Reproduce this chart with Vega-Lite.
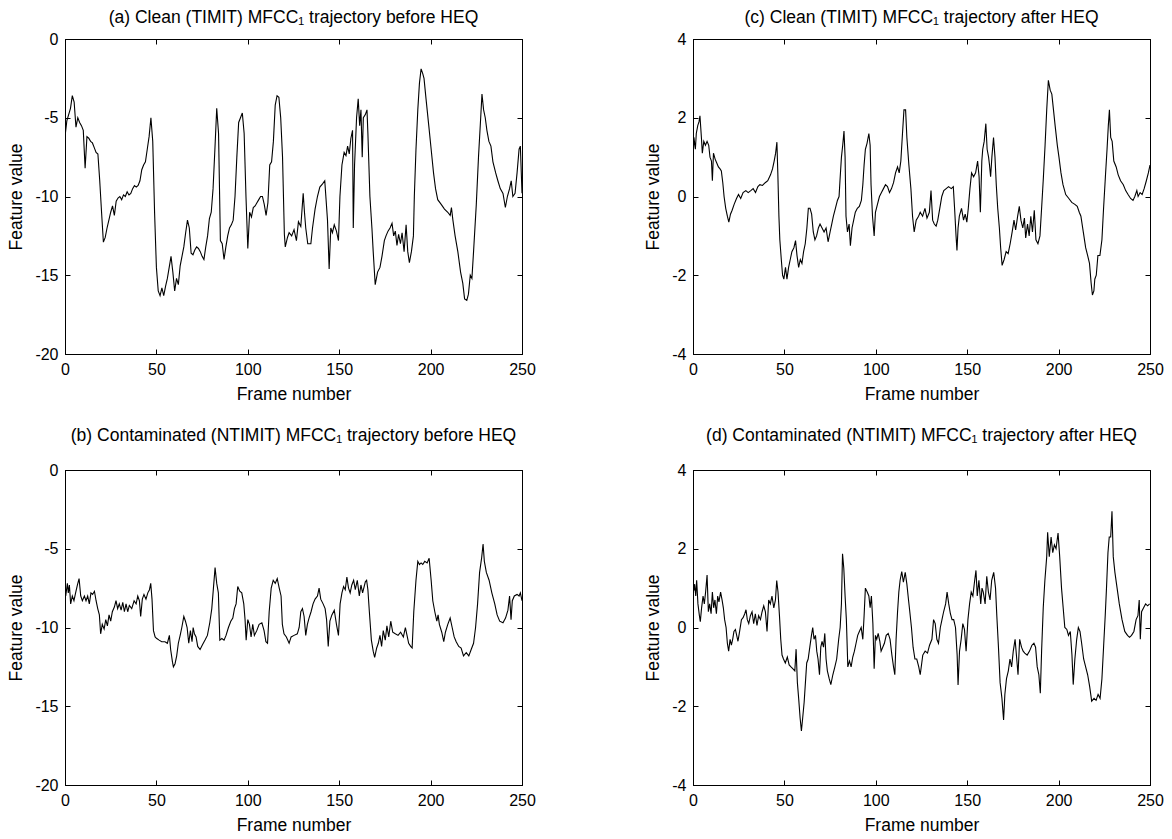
{
  "$schema": "https://vega.github.io/schema/vega-lite/v6.json",
  "background": "white",
  "padding": {"left": 7, "top": 8, "right": 5, "bottom": 5},
  "datasets": {
    "a": [{"f":0,"v":-6.2},{"f":1,"v":-5.2},{"f":2,"v":-4.8},{"f":3,"v":-4.4},{"f":4,"v":-3.6},{"f":5,"v":-4.0},{"f":6,"v":-5.6},{"f":7,"v":-5.0},{"f":8,"v":-5.3},{"f":9,"v":-5.5},{"f":10,"v":-5.8},{"f":11,"v":-8.2},{"f":12,"v":-6.2},{"f":13,"v":-6.3},{"f":14,"v":-6.5},{"f":15,"v":-6.6},{"f":16,"v":-6.9},{"f":17,"v":-7.2},{"f":18,"v":-7.3},{"f":19,"v":-9.0},{"f":20,"v":-11.0},{"f":21,"v":-12.9},{"f":22,"v":-12.6},{"f":23,"v":-12.0},{"f":24,"v":-11.5},{"f":25,"v":-11.0},{"f":26,"v":-10.6},{"f":27,"v":-11.2},{"f":28,"v":-10.3},{"f":29,"v":-10.1},{"f":30,"v":-10.0},{"f":31,"v":-10.2},{"f":32,"v":-9.9},{"f":33,"v":-10.0},{"f":34,"v":-9.7},{"f":35,"v":-9.9},{"f":36,"v":-9.8},{"f":37,"v":-9.5},{"f":38,"v":-9.3},{"f":39,"v":-9.4},{"f":40,"v":-9.3},{"f":41,"v":-9.0},{"f":42,"v":-8.3},{"f":43,"v":-8.0},{"f":44,"v":-7.8},{"f":45,"v":-7.0},{"f":46,"v":-6.2},{"f":47,"v":-5.0},{"f":48,"v":-6.5},{"f":49,"v":-11.0},{"f":50,"v":-14.5},{"f":51,"v":-16.0},{"f":52,"v":-16.3},{"f":53,"v":-15.8},{"f":54,"v":-16.3},{"f":55,"v":-15.7},{"f":56,"v":-15.2},{"f":57,"v":-14.5},{"f":58,"v":-13.8},{"f":59,"v":-14.8},{"f":60,"v":-16.0},{"f":61,"v":-15.2},{"f":62,"v":-15.6},{"f":63,"v":-14.4},{"f":64,"v":-13.8},{"f":65,"v":-13.2},{"f":66,"v":-12.3},{"f":67,"v":-11.5},{"f":68,"v":-12.0},{"f":69,"v":-13.6},{"f":70,"v":-13.7},{"f":71,"v":-13.4},{"f":72,"v":-13.2},{"f":73,"v":-13.3},{"f":74,"v":-13.5},{"f":75,"v":-13.8},{"f":76,"v":-14.0},{"f":77,"v":-13.2},{"f":78,"v":-12.5},{"f":79,"v":-11.4},{"f":80,"v":-11.0},{"f":81,"v":-9.5},{"f":82,"v":-7.0},{"f":83,"v":-4.4},{"f":84,"v":-6.0},{"f":85,"v":-12.8},{"f":86,"v":-13.0},{"f":87,"v":-14.0},{"f":88,"v":-13.2},{"f":89,"v":-12.5},{"f":90,"v":-12.0},{"f":91,"v":-11.8},{"f":92,"v":-11.5},{"f":93,"v":-10.0},{"f":94,"v":-7.5},{"f":95,"v":-5.3},{"f":96,"v":-5.0},{"f":97,"v":-4.7},{"f":98,"v":-6.0},{"f":99,"v":-10.0},{"f":100,"v":-13.3},{"f":101,"v":-11.0},{"f":102,"v":-11.3},{"f":103,"v":-10.7},{"f":104,"v":-10.6},{"f":105,"v":-10.4},{"f":106,"v":-10.2},{"f":107,"v":-10.0},{"f":108,"v":-10.0},{"f":109,"v":-10.5},{"f":110,"v":-11.2},{"f":111,"v":-10.4},{"f":112,"v":-8.0},{"f":113,"v":-7.8},{"f":114,"v":-6.5},{"f":115,"v":-4.2},{"f":116,"v":-3.6},{"f":117,"v":-3.7},{"f":118,"v":-5.0},{"f":119,"v":-7.5},{"f":120,"v":-12.4},{"f":120.5,"v":-13.2},{"f":121.7,"v":-12.6},{"f":122.6,"v":-12.3},{"f":124,"v":-12.5},{"f":125.3,"v":-12.1},{"f":126.6,"v":-12.8},{"f":127.7,"v":-11.6},{"f":129,"v":-11.9},{"f":130.3,"v":-9.8},{"f":131,"v":-11.0},{"f":131.7,"v":-12.0},{"f":132.8,"v":-13.0},{"f":134.5,"v":-13.0},{"f":135.4,"v":-12.0},{"f":136.8,"v":-10.8},{"f":138.1,"v":-10.0},{"f":139.4,"v":-9.4},{"f":140.9,"v":-9.2},{"f":142.1,"v":-9.0},{"f":142.7,"v":-10.0},{"f":143.6,"v":-11.5},{"f":144.5,"v":-14.6},{"f":145.4,"v":-12.0},{"f":146.3,"v":-12.3},{"f":147.3,"v":-11.8},{"f":148.5,"v":-12.2},{"f":149.6,"v":-12.8},{"f":150.4,"v":-10.0},{"f":151.5,"v":-8.0},{"f":152.7,"v":-7.2},{"f":153.7,"v":-7.4},{"f":154.6,"v":-6.8},{"f":155.5,"v":-7.3},{"f":156.4,"v":-6.3},{"f":157.3,"v":-5.8},{"f":157.7,"v":-12.0},{"f":158.4,"v":-8.0},{"f":159.5,"v":-5.0},{"f":160.4,"v":-3.8},{"f":161.2,"v":-5.5},{"f":161.9,"v":-4.5},{"f":162.6,"v":-7.5},{"f":163.2,"v":-5.0},{"f":164.3,"v":-4.8},{"f":165.2,"v":-4.5},{"f":165.7,"v":-6.0},{"f":166.8,"v":-10.0},{"f":167.9,"v":-12.0},{"f":168.6,"v":-13.5},{"f":169.7,"v":-15.6},{"f":171,"v":-14.8},{"f":172.3,"v":-14.5},{"f":173.4,"v":-13.8},{"f":174.7,"v":-12.8},{"f":175.6,"v":-12.5},{"f":176.7,"v":-12.2},{"f":177.8,"v":-12.0},{"f":178.9,"v":-11.7},{"f":179.8,"v":-12.5},{"f":180.7,"v":-12.2},{"f":181.6,"v":-13.1},{"f":182.5,"v":-12.4},{"f":183.5,"v":-13.0},{"f":184.4,"v":-12.3},{"f":185.5,"v":-13.5},{"f":186.6,"v":-11.8},{"f":187.5,"v":-13.5},{"f":188.4,"v":-14.2},{"f":189.5,"v":-13.5},{"f":190.6,"v":-12.5},{"f":191.1,"v":-10.0},{"f":192,"v":-7.0},{"f":193,"v":-4.5},{"f":193.9,"v":-2.8},{"f":194.8,"v":-1.9},{"f":195.7,"v":-2.2},{"f":196.4,"v":-2.5},{"f":197.5,"v":-3.8},{"f":199,"v":-5.5},{"f":200.3,"v":-7.0},{"f":201.6,"v":-8.5},{"f":202.7,"v":-9.5},{"f":203.9,"v":-10.2},{"f":205.8,"v":-10.5},{"f":207.6,"v":-10.8},{"f":209.4,"v":-11.0},{"f":210.7,"v":-11.2},{"f":211.4,"v":-10.7},{"f":212.2,"v":-11.5},{"f":213.4,"v":-12.5},{"f":214.9,"v":-13.5},{"f":216.4,"v":-14.8},{"f":217.6,"v":-15.5},{"f":218.6,"v":-16.5},{"f":219.8,"v":-16.6},{"f":220.7,"v":-16.2},{"f":221.7,"v":-15.0},{"f":222.6,"v":-15.2},{"f":223.5,"v":-13.5},{"f":225,"v":-10.5},{"f":226.2,"v":-7.5},{"f":227.4,"v":-5.0},{"f":228.1,"v":-3.5},{"f":229,"v":-4.5},{"f":229.9,"v":-5.0},{"f":230.8,"v":-5.8},{"f":231.9,"v":-6.5},{"f":233,"v":-6.8},{"f":234.1,"v":-7.8},{"f":235.6,"v":-8.5},{"f":236.8,"v":-9.0},{"f":238.1,"v":-9.5},{"f":239.6,"v":-9.8},{"f":240.9,"v":-10.7},{"f":242,"v":-10.0},{"f":243.2,"v":-9.5},{"f":244.1,"v":-9.0},{"f":245,"v":-10.0},{"f":246.2,"v":-9.8},{"f":247.3,"v":-8.5},{"f":248.4,"v":-7.0},{"f":249.1,"v":-6.8},{"f":250,"v":-9.8}],
    "b": [{"f":0.4,"v":-8.0},{"f":1.3,"v":-7.2},{"f":1.8,"v":-7.8},{"f":2.4,"v":-7.3},{"f":3.1,"v":-8.5},{"f":4,"v":-8.0},{"f":4.9,"v":-8.3},{"f":5.8,"v":-7.8},{"f":6.8,"v":-7.3},{"f":7.7,"v":-6.9},{"f":8.6,"v":-8.0},{"f":9.5,"v":-8.3},{"f":10.6,"v":-8.0},{"f":11.5,"v":-8.3},{"f":12.4,"v":-8.0},{"f":13.3,"v":-8.5},{"f":14.2,"v":-7.8},{"f":15.1,"v":-7.9},{"f":16.1,"v":-7.7},{"f":17,"v":-8.3},{"f":17.9,"v":-8.8},{"f":18.8,"v":-9.2},{"f":19.5,"v":-10.4},{"f":20.4,"v":-9.8},{"f":21.4,"v":-10.1},{"f":22.3,"v":-9.5},{"f":23.2,"v":-9.9},{"f":24.1,"v":-9.2},{"f":25,"v":-9.6},{"f":25.9,"v":-9.0},{"f":27,"v":-8.7},{"f":27.9,"v":-8.3},{"f":28.8,"v":-8.8},{"f":29.7,"v":-8.5},{"f":30.7,"v":-8.9},{"f":31.6,"v":-8.4},{"f":32.5,"v":-9.0},{"f":33.4,"v":-8.5},{"f":34.3,"v":-9.0},{"f":35.2,"v":-8.6},{"f":36.5,"v":-8.8},{"f":37.8,"v":-8.3},{"f":38.9,"v":-8.5},{"f":39.8,"v":-8.0},{"f":40.7,"v":-8.3},{"f":41.4,"v":-9.3},{"f":42.3,"v":-8.2},{"f":43.2,"v":-7.9},{"f":44.3,"v":-8.2},{"f":45.3,"v":-7.8},{"f":46.2,"v":-7.6},{"f":46.9,"v":-7.2},{"f":47.6,"v":-8.2},{"f":48.4,"v":-10.2},{"f":49.3,"v":-10.6},{"f":50.2,"v":-10.7},{"f":51.5,"v":-10.8},{"f":52.9,"v":-10.9},{"f":54.7,"v":-10.9},{"f":56,"v":-11.0},{"f":57.1,"v":-10.5},{"f":57.8,"v":-11.4},{"f":58.8,"v":-12.2},{"f":59.3,"v":-12.5},{"f":60.2,"v":-12.3},{"f":61.1,"v":-11.8},{"f":62,"v":-11.0},{"f":63,"v":-10.5},{"f":63.9,"v":-10.0},{"f":65,"v":-9.3},{"f":65.9,"v":-9.6},{"f":66.8,"v":-10.0},{"f":67.7,"v":-11.0},{"f":68.6,"v":-10.2},{"f":69.5,"v":-10.9},{"f":70.1,"v":-10.0},{"f":70.8,"v":-10.4},{"f":71.7,"v":-10.6},{"f":72.6,"v":-11.2},{"f":73.9,"v":-11.4},{"f":75.2,"v":-11.1},{"f":76.6,"v":-10.8},{"f":77.9,"v":-10.5},{"f":79.2,"v":-9.7},{"f":80.3,"v":-8.8},{"f":81.2,"v":-7.5},{"f":82.1,"v":-6.2},{"f":83,"v":-7.2},{"f":83.9,"v":-7.8},{"f":84.7,"v":-10.8},{"f":85.8,"v":-10.7},{"f":87,"v":-10.8},{"f":88.1,"v":-10.5},{"f":89.4,"v":-10.0},{"f":90.7,"v":-9.6},{"f":91.8,"v":-9.4},{"f":92.7,"v":-8.8},{"f":93.6,"v":-8.5},{"f":94.5,"v":-7.4},{"f":95.6,"v":-7.7},{"f":96.7,"v":-7.8},{"f":97.8,"v":-8.5},{"f":98.5,"v":-9.5},{"f":99.1,"v":-10.8},{"f":100,"v":-9.5},{"f":100.9,"v":-9.8},{"f":101.8,"v":-10.6},{"f":102.7,"v":-9.8},{"f":103.6,"v":-10.5},{"f":104.9,"v":-10.2},{"f":106.2,"v":-9.8},{"f":107.7,"v":-9.7},{"f":108.9,"v":-10.2},{"f":109.9,"v":-10.9},{"f":110.8,"v":-11.0},{"f":111.7,"v":-9.0},{"f":112.8,"v":-7.5},{"f":113.9,"v":-7.0},{"f":115,"v":-7.2},{"f":116.1,"v":-6.9},{"f":117.2,"v":-7.5},{"f":118.2,"v":-8.0},{"f":118.9,"v":-9.8},{"f":119.8,"v":-10.4},{"f":121.1,"v":-10.6},{"f":122.6,"v":-11.0},{"f":123.7,"v":-10.6},{"f":125.3,"v":-10.5},{"f":127.1,"v":-10.4},{"f":128.1,"v":-10.0},{"f":129,"v":-9.0},{"f":129.9,"v":-8.8},{"f":130.8,"v":-9.3},{"f":131.7,"v":-10.5},{"f":132.6,"v":-9.8},{"f":133.5,"v":-9.4},{"f":134.6,"v":-9.0},{"f":135.7,"v":-8.5},{"f":136.8,"v":-8.2},{"f":138.1,"v":-8.0},{"f":139,"v":-7.5},{"f":139.9,"v":-8.2},{"f":141.2,"v":-8.5},{"f":142.3,"v":-8.8},{"f":143.1,"v":-9.5},{"f":144,"v":-11.2},{"f":144.9,"v":-9.6},{"f":146,"v":-9.2},{"f":147.3,"v":-8.9},{"f":148.5,"v":-9.8},{"f":149.6,"v":-10.5},{"f":150.5,"v":-8.5},{"f":151.5,"v":-7.8},{"f":152.4,"v":-7.4},{"f":153.3,"v":-7.6},{"f":154.2,"v":-6.8},{"f":155.1,"v":-7.5},{"f":156,"v":-7.8},{"f":156.9,"v":-7.3},{"f":157.9,"v":-7.0},{"f":158.8,"v":-7.6},{"f":159.9,"v":-7.0},{"f":161,"v":-8.0},{"f":161.9,"v":-7.3},{"f":162.8,"v":-7.8},{"f":164.3,"v":-7.1},{"f":165,"v":-7.0},{"f":165.7,"v":-7.6},{"f":166.5,"v":-9.0},{"f":167.6,"v":-10.8},{"f":168.6,"v":-11.5},{"f":169.4,"v":-11.9},{"f":170.5,"v":-11.3},{"f":171.4,"v":-11.0},{"f":172.3,"v":-10.5},{"f":173.2,"v":-11.2},{"f":174.1,"v":-10.2},{"f":175.2,"v":-10.8},{"f":176.1,"v":-9.9},{"f":177.1,"v":-10.6},{"f":178.2,"v":-9.6},{"f":179.3,"v":-10.3},{"f":180.7,"v":-10.4},{"f":182.2,"v":-10.5},{"f":183.6,"v":-10.3},{"f":185.1,"v":-10.6},{"f":186.2,"v":-10.0},{"f":187.1,"v":-10.5},{"f":188,"v":-11.0},{"f":189.1,"v":-11.2},{"f":189.9,"v":-11.3},{"f":190.8,"v":-9.0},{"f":192,"v":-7.0},{"f":193,"v":-5.8},{"f":193.9,"v":-6.0},{"f":194.8,"v":-5.9},{"f":195.7,"v":-6.0},{"f":196.8,"v":-5.8},{"f":198.1,"v":-5.9},{"f":199.2,"v":-5.6},{"f":200.3,"v":-7.0},{"f":201.2,"v":-8.3},{"f":202.3,"v":-9.0},{"f":203.4,"v":-9.6},{"f":204.1,"v":-9.2},{"f":204.8,"v":-9.8},{"f":206.1,"v":-10.3},{"f":207.2,"v":-10.9},{"f":208.1,"v":-10.3},{"f":209.4,"v":-9.8},{"f":210.7,"v":-9.4},{"f":211.8,"v":-10.0},{"f":212.9,"v":-10.6},{"f":214,"v":-10.9},{"f":215.4,"v":-11.2},{"f":216.7,"v":-11.3},{"f":218,"v":-11.8},{"f":219.5,"v":-11.6},{"f":220.9,"v":-11.8},{"f":222.2,"v":-11.4},{"f":223.5,"v":-11.0},{"f":224.6,"v":-10.0},{"f":225.7,"v":-8.5},{"f":226.8,"v":-6.5},{"f":227.9,"v":-5.6},{"f":228.7,"v":-4.7},{"f":229.4,"v":-5.8},{"f":230.5,"v":-6.5},{"f":232,"v":-7.0},{"f":233.5,"v":-7.8},{"f":235.1,"v":-8.5},{"f":236.4,"v":-9.2},{"f":237.8,"v":-9.6},{"f":239.6,"v":-9.7},{"f":241,"v":-9.4},{"f":242.3,"v":-8.9},{"f":243.2,"v":-8.0},{"f":244,"v":-9.5},{"f":244.7,"v":-8.3},{"f":245.8,"v":-8.0},{"f":247.3,"v":-7.9},{"f":248.4,"v":-8.0},{"f":249.1,"v":-7.8},{"f":250,"v":-8.3}],
    "c": [{"f":0,"v":0.9},{"f":0.5,"v":1.5},{"f":1.3,"v":1.2},{"f":1.8,"v":1.6},{"f":2.6,"v":1.8},{"f":3.3,"v":1.9},{"f":3.8,"v":2.05},{"f":4.6,"v":1.5},{"f":5.1,"v":1.1},{"f":5.9,"v":1.4},{"f":6.8,"v":1.3},{"f":7.7,"v":1.4},{"f":8.6,"v":1.3},{"f":9.3,"v":1.0},{"f":10.1,"v":0.9},{"f":10.6,"v":0.4},{"f":11.2,"v":1.1},{"f":12.1,"v":0.95},{"f":13,"v":0.85},{"f":13.9,"v":0.75},{"f":14.8,"v":0.7},{"f":15.5,"v":0.65},{"f":16.3,"v":0.35},{"f":17,"v":0.0},{"f":17.9,"v":-0.3},{"f":18.8,"v":-0.5},{"f":19.6,"v":-0.65},{"f":20.5,"v":-0.45},{"f":21.4,"v":-0.35},{"f":22.5,"v":-0.2},{"f":23.8,"v":-0.05},{"f":24.9,"v":0.05},{"f":26.1,"v":-0.05},{"f":27.4,"v":0.1},{"f":28.9,"v":0.15},{"f":30.2,"v":0.1},{"f":31.6,"v":0.15},{"f":32.9,"v":0.2},{"f":34.2,"v":0.1},{"f":35.5,"v":0.25},{"f":36.6,"v":0.3},{"f":38,"v":0.28},{"f":39.5,"v":0.35},{"f":40.9,"v":0.4},{"f":42.4,"v":0.55},{"f":43.5,"v":0.7},{"f":44.4,"v":0.9},{"f":45.2,"v":1.1},{"f":45.9,"v":1.38},{"f":46.4,"v":0.6},{"f":47,"v":-0.5},{"f":47.5,"v":-1.1},{"f":48.3,"v":-1.6},{"f":49,"v":-2.0},{"f":49.7,"v":-2.1},{"f":50.6,"v":-1.8},{"f":51.4,"v":-2.1},{"f":52.3,"v":-1.8},{"f":53.2,"v":-1.6},{"f":54.1,"v":-1.4},{"f":55.2,"v":-1.3},{"f":56.1,"v":-1.12},{"f":56.9,"v":-1.5},{"f":57.8,"v":-1.8},{"f":58.7,"v":-1.6},{"f":59.6,"v":-1.7},{"f":60.5,"v":-1.4},{"f":61.4,"v":-1.2},{"f":62.3,"v":-0.8},{"f":63.1,"v":-0.3},{"f":64,"v":-0.3},{"f":64.9,"v":-0.45},{"f":65.8,"v":-0.9},{"f":66.7,"v":-1.1},{"f":67.6,"v":-1.0},{"f":68.6,"v":-0.8},{"f":69.5,"v":-0.7},{"f":70.6,"v":-0.8},{"f":71.7,"v":-0.9},{"f":72.8,"v":-0.8},{"f":73.9,"v":-1.15},{"f":75,"v":-0.9},{"f":75.9,"v":-0.7},{"f":76.8,"v":-0.5},{"f":77.9,"v":-0.3},{"f":79,"v":-0.1},{"f":79.9,"v":0.0},{"f":80.4,"v":0.4},{"f":81.2,"v":1.0},{"f":81.9,"v":1.3},{"f":82.6,"v":1.66},{"f":83.2,"v":1.0},{"f":83.7,"v":-0.5},{"f":84.5,"v":-0.9},{"f":85.4,"v":-0.7},{"f":86.1,"v":-1.25},{"f":87,"v":-0.8},{"f":87.9,"v":-0.6},{"f":88.8,"v":-0.4},{"f":89.9,"v":-0.3},{"f":91,"v":-0.25},{"f":92.1,"v":-0.1},{"f":92.9,"v":0.3},{"f":93.6,"v":0.8},{"f":94.3,"v":1.2},{"f":95.2,"v":1.35},{"f":96.2,"v":1.6},{"f":96.9,"v":1.3},{"f":97.4,"v":0.3},{"f":98.2,"v":-0.5},{"f":99.1,"v":-1.0},{"f":99.8,"v":-0.4},{"f":100.9,"v":-0.2},{"f":102,"v":0.0},{"f":103.1,"v":0.1},{"f":104.2,"v":0.2},{"f":105.3,"v":0.3},{"f":106.4,"v":0.25},{"f":107.5,"v":0.1},{"f":108.6,"v":0.2},{"f":109.7,"v":0.35},{"f":110.8,"v":0.6},{"f":111.9,"v":0.75},{"f":112.8,"v":0.6},{"f":113.7,"v":0.9},{"f":114.6,"v":1.6},{"f":115.4,"v":2.2},{"f":116.3,"v":2.2},{"f":117,"v":1.5},{"f":118.1,"v":0.8},{"f":119.2,"v":0.2},{"f":120.1,"v":-0.5},{"f":121,"v":-0.9},{"f":122.1,"v":-0.6},{"f":123.4,"v":-0.5},{"f":124.3,"v":-0.4},{"f":125.6,"v":-0.5},{"f":126.9,"v":-0.3},{"f":128,"v":-0.55},{"f":129.3,"v":-0.4},{"f":130.2,"v":0.15},{"f":131.1,"v":-0.6},{"f":132,"v":-0.7},{"f":133,"v":-0.75},{"f":133.9,"v":-0.6},{"f":135,"v":-0.3},{"f":136.1,"v":0.0},{"f":137.2,"v":0.15},{"f":138.5,"v":0.2},{"f":139.8,"v":0.25},{"f":141.3,"v":0.2},{"f":142.4,"v":0.25},{"f":143.1,"v":-0.3},{"f":143.9,"v":-1.0},{"f":144.4,"v":-1.37},{"f":145,"v":-0.8},{"f":145.7,"v":-0.5},{"f":146.9,"v":-0.3},{"f":148,"v":-0.6},{"f":148.9,"v":-0.45},{"f":149.8,"v":-0.65},{"f":150.6,"v":-0.3},{"f":151.5,"v":0.2},{"f":152.4,"v":0.6},{"f":153.5,"v":0.5},{"f":154.6,"v":0.6},{"f":155.7,"v":0.9},{"f":156.5,"v":0.5},{"f":157.2,"v":-0.4},{"f":158,"v":0.9},{"f":158.5,"v":1.2},{"f":159.3,"v":1.4},{"f":160.2,"v":1.85},{"f":160.9,"v":1.2},{"f":161.7,"v":1.0},{"f":162.2,"v":0.8},{"f":162.8,"v":0.5},{"f":163.5,"v":1.0},{"f":164.4,"v":1.5},{"f":165.2,"v":1.0},{"f":165.9,"v":0.3},{"f":166.7,"v":-0.3},{"f":167.6,"v":-0.8},{"f":168.3,"v":-1.3},{"f":169.1,"v":-1.75},{"f":170.2,"v":-1.6},{"f":171.3,"v":-1.4},{"f":172.4,"v":-1.45},{"f":173.5,"v":-1.2},{"f":174.6,"v":-0.9},{"f":175.6,"v":-0.6},{"f":176.5,"v":-0.85},{"f":177.6,"v":-0.5},{"f":178.5,"v":-0.25},{"f":179.4,"v":-0.6},{"f":180.4,"v":-0.8},{"f":181.3,"v":-0.55},{"f":182,"v":-1.05},{"f":183,"v":-0.7},{"f":183.9,"v":-1.0},{"f":184.8,"v":-0.5},{"f":185.7,"v":-0.9},{"f":186.7,"v":-0.35},{"f":187.6,"v":-1.1},{"f":188.7,"v":-1.2},{"f":189.8,"v":-1.0},{"f":190.7,"v":-0.3},{"f":191.7,"v":0.5},{"f":192.6,"v":1.3},{"f":193.5,"v":2.2},{"f":194.4,"v":2.95},{"f":195.4,"v":2.7},{"f":196.3,"v":2.6},{"f":197.2,"v":2.2},{"f":198.1,"v":1.8},{"f":199.3,"v":1.3},{"f":200.2,"v":1.0},{"f":201.3,"v":0.6},{"f":202.4,"v":0.3},{"f":203.9,"v":0.05},{"f":205.6,"v":-0.05},{"f":207.2,"v":-0.15},{"f":208.9,"v":-0.2},{"f":210.2,"v":-0.25},{"f":211.3,"v":-0.4},{"f":212.2,"v":-0.5},{"f":213.5,"v":-0.9},{"f":214.8,"v":-1.3},{"f":215.9,"v":-1.5},{"f":216.9,"v":-1.7},{"f":217.8,"v":-2.2},{"f":218.5,"v":-2.5},{"f":219.3,"v":-2.4},{"f":219.8,"v":-2.1},{"f":220.6,"v":-2.0},{"f":221.5,"v":-1.5},{"f":222.6,"v":-1.5},{"f":223.7,"v":-1.1},{"f":224.6,"v":-0.3},{"f":225.6,"v":0.5},{"f":226.5,"v":1.2},{"f":227.2,"v":1.8},{"f":227.8,"v":2.2},{"f":228.5,"v":1.5},{"f":229.3,"v":1.4},{"f":230.2,"v":0.9},{"f":231.5,"v":0.75},{"f":232.6,"v":0.55},{"f":233.9,"v":0.4},{"f":235.4,"v":0.3},{"f":236.7,"v":0.15},{"f":238,"v":0.05},{"f":239.4,"v":-0.05},{"f":240.7,"v":-0.1},{"f":241.7,"v":0.0},{"f":242.8,"v":0.15},{"f":243.5,"v":0.0},{"f":244.6,"v":0.1},{"f":245.7,"v":0.05},{"f":246.8,"v":0.2},{"f":248,"v":0.4},{"f":249.1,"v":0.6},{"f":250,"v":0.8}],
    "d": [{"f":0.4,"v":0.93},{"f":0.9,"v":1.1},{"f":1.5,"v":0.8},{"f":2,"v":1.2},{"f":2.7,"v":0.6},{"f":3.5,"v":0.3},{"f":4,"v":0.15},{"f":4.7,"v":0.5},{"f":5.5,"v":0.8},{"f":6.2,"v":0.6},{"f":6.9,"v":0.9},{"f":7.7,"v":1.33},{"f":8.4,"v":0.4},{"f":9.1,"v":0.6},{"f":9.9,"v":0.35},{"f":10.6,"v":0.9},{"f":11.3,"v":0.5},{"f":12,"v":0.7},{"f":12.8,"v":0.35},{"f":13.5,"v":0.8},{"f":14.2,"v":0.65},{"f":15.1,"v":0.9},{"f":15.9,"v":0.7},{"f":16.6,"v":0.5},{"f":17.3,"v":0.2},{"f":18.1,"v":0.0},{"f":18.8,"v":-0.4},{"f":19.5,"v":-0.6},{"f":20.3,"v":-0.3},{"f":21,"v":-0.45},{"f":21.7,"v":-0.3},{"f":22.4,"v":-0.1},{"f":23.2,"v":-0.05},{"f":23.9,"v":-0.2},{"f":24.6,"v":-0.35},{"f":25.5,"v":-0.1},{"f":26.5,"v":0.2},{"f":27.4,"v":0.25},{"f":28.3,"v":0.35},{"f":29,"v":0.45},{"f":29.7,"v":0.2},{"f":30.5,"v":0.1},{"f":31.4,"v":0.3},{"f":32.3,"v":0.4},{"f":33.2,"v":0.1},{"f":34.1,"v":0.35},{"f":35,"v":0.05},{"f":35.9,"v":0.3},{"f":36.9,"v":0.2},{"f":37.8,"v":0.4},{"f":38.7,"v":0.55},{"f":39.6,"v":0.4},{"f":40.5,"v":-0.1},{"f":41.4,"v":0.7},{"f":42.3,"v":0.6},{"f":43.2,"v":0.8},{"f":44.2,"v":0.5},{"f":45.1,"v":0.7},{"f":45.8,"v":1.19},{"f":46.5,"v":0.9},{"f":47.3,"v":0.3},{"f":48,"v":-0.3},{"f":48.7,"v":-0.7},{"f":49.5,"v":-0.8},{"f":50.5,"v":-0.9},{"f":51.6,"v":-0.75},{"f":52.6,"v":-0.95},{"f":53.6,"v":-1.0},{"f":54.7,"v":-1.05},{"f":55.7,"v":-1.1},{"f":56.4,"v":-0.55},{"f":57.1,"v":-1.4},{"f":57.8,"v":-1.8},{"f":58.6,"v":-2.3},{"f":59.3,"v":-2.63},{"f":60,"v":-2.3},{"f":60.8,"v":-1.9},{"f":61.5,"v":-1.4},{"f":62.2,"v":-0.9},{"f":63,"v":-0.8},{"f":63.9,"v":-0.5},{"f":64.8,"v":-0.2},{"f":65.5,"v":0.0},{"f":66.2,"v":-0.3},{"f":67,"v":-0.2},{"f":67.7,"v":-0.6},{"f":68.4,"v":-0.8},{"f":69.2,"v":-1.2},{"f":69.9,"v":-0.5},{"f":70.6,"v":-0.35},{"f":71.4,"v":-0.5},{"f":72.1,"v":-0.15},{"f":72.8,"v":-0.8},{"f":73.5,"v":-1.1},{"f":74.5,"v":-1.3},{"f":75.4,"v":-1.45},{"f":76.5,"v":-1.2},{"f":77.6,"v":-1.0},{"f":78.6,"v":-0.8},{"f":79.7,"v":-0.3},{"f":80.5,"v":0.0},{"f":81.2,"v":0.6},{"f":81.8,"v":1.87},{"f":82.5,"v":1.5},{"f":83.2,"v":0.8},{"f":83.9,"v":0.2},{"f":84.7,"v":-1.0},{"f":85.6,"v":-0.85},{"f":86.5,"v":-1.0},{"f":87.4,"v":-0.75},{"f":88.3,"v":-0.6},{"f":89.2,"v":-0.4},{"f":90.1,"v":-0.2},{"f":91,"v":-0.1},{"f":92,"v":0.0},{"f":92.9,"v":-0.3},{"f":93.6,"v":0.3},{"f":94.3,"v":1.0},{"f":95.3,"v":0.9},{"f":96.2,"v":0.8},{"f":96.9,"v":0.5},{"f":97.6,"v":0.8},{"f":98.4,"v":0.1},{"f":99.1,"v":-1.05},{"f":99.8,"v":-0.2},{"f":100.5,"v":-0.3},{"f":101.3,"v":-0.15},{"f":102.2,"v":-0.35},{"f":102.9,"v":-0.6},{"f":103.8,"v":-0.5},{"f":104.7,"v":-0.4},{"f":105.7,"v":-0.2},{"f":106.8,"v":-0.15},{"f":107.8,"v":-0.3},{"f":108.8,"v":-0.7},{"f":109.7,"v":-1.0},{"f":110.4,"v":-1.2},{"f":111.1,"v":-0.3},{"f":111.9,"v":0.4},{"f":112.6,"v":0.9},{"f":113.3,"v":1.2},{"f":114.2,"v":1.42},{"f":115.1,"v":1.15},{"f":116.1,"v":1.4},{"f":117,"v":1.1},{"f":117.9,"v":0.7},{"f":118.6,"v":0.4},{"f":119.5,"v":0.0},{"f":120.4,"v":-0.5},{"f":121.4,"v":-0.8},{"f":122.4,"v":-0.8},{"f":123.5,"v":-1.0},{"f":124.3,"v":-1.2},{"f":125.7,"v":-0.7},{"f":127,"v":-0.6},{"f":128.3,"v":-0.65},{"f":129.4,"v":-0.45},{"f":130.7,"v":-0.3},{"f":131.6,"v":0.2},{"f":132.5,"v":0.1},{"f":133.4,"v":-0.3},{"f":134.3,"v":-0.4},{"f":135.3,"v":0.0},{"f":136.2,"v":0.2},{"f":137.1,"v":0.4},{"f":138.2,"v":0.6},{"f":139,"v":0.9},{"f":139.9,"v":0.6},{"f":140.8,"v":0.35},{"f":141.7,"v":0.2},{"f":142.6,"v":0.2},{"f":143.6,"v":0.0},{"f":144.5,"v":-0.7},{"f":145,"v":-1.46},{"f":145.8,"v":-0.6},{"f":146.7,"v":-0.3},{"f":147.6,"v":0.1},{"f":148.5,"v":-0.05},{"f":149.4,"v":-0.6},{"f":150.4,"v":0.2},{"f":151.3,"v":0.6},{"f":152.2,"v":0.9},{"f":153.1,"v":0.8},{"f":154.1,"v":1.2},{"f":154.8,"v":1.45},{"f":155.5,"v":0.8},{"f":156.4,"v":1.2},{"f":157.4,"v":0.6},{"f":158.1,"v":1.0},{"f":158.8,"v":0.9},{"f":159.8,"v":0.6},{"f":160.7,"v":1.3},{"f":161.6,"v":0.9},{"f":162.5,"v":0.7},{"f":163.4,"v":1.2},{"f":164.5,"v":1.4},{"f":165.5,"v":1.0},{"f":166.2,"v":0.3},{"f":167.1,"v":-0.5},{"f":168,"v":-1.4},{"f":169,"v":-1.8},{"f":169.9,"v":-2.35},{"f":170.6,"v":-1.7},{"f":171.5,"v":-1.3},{"f":172.5,"v":-1.1},{"f":173.4,"v":-0.8},{"f":174.3,"v":-1.0},{"f":175.2,"v":-0.6},{"f":176.2,"v":-0.3},{"f":177.1,"v":-0.8},{"f":177.8,"v":-1.2},{"f":178.7,"v":-0.3},{"f":179.7,"v":-0.5},{"f":180.6,"v":-0.6},{"f":181.5,"v":-0.65},{"f":182.8,"v":-0.7},{"f":184.1,"v":-0.6},{"f":185.4,"v":-0.45},{"f":186.5,"v":-0.4},{"f":187.4,"v":-0.5},{"f":188.3,"v":-1.0},{"f":189.2,"v":-1.2},{"f":190,"v":-1.67},{"f":190.7,"v":-0.6},{"f":191.6,"v":0.5},{"f":192.5,"v":1.2},{"f":193.5,"v":1.8},{"f":194,"v":2.42},{"f":194.9,"v":1.8},{"f":195.9,"v":2.3},{"f":196.8,"v":1.9},{"f":197.7,"v":2.1},{"f":198.6,"v":2.0},{"f":199.7,"v":2.4},{"f":200.6,"v":1.8},{"f":201.6,"v":1.0},{"f":202.5,"v":0.5},{"f":203.4,"v":0.0},{"f":204.5,"v":-0.05},{"f":205.4,"v":-0.2},{"f":206.4,"v":-0.1},{"f":207.3,"v":-0.7},{"f":208,"v":-1.45},{"f":208.9,"v":-0.8},{"f":209.9,"v":-0.3},{"f":210.8,"v":0.0},{"f":211.7,"v":-0.1},{"f":212.6,"v":-0.4},{"f":213.7,"v":-0.8},{"f":214.8,"v":-1.0},{"f":215.9,"v":-1.2},{"f":217,"v":-1.5},{"f":218.1,"v":-1.87},{"f":219.4,"v":-1.8},{"f":220.5,"v":-1.85},{"f":221.6,"v":-1.7},{"f":222.7,"v":-1.8},{"f":223.7,"v":-1.3},{"f":224.6,"v":-0.5},{"f":225.5,"v":0.3},{"f":226.2,"v":1.0},{"f":227,"v":1.9},{"f":227.7,"v":2.3},{"f":228.5,"v":2.3},{"f":229.2,"v":2.95},{"f":229.9,"v":1.8},{"f":230.8,"v":1.4},{"f":232,"v":1.0},{"f":233.2,"v":0.6},{"f":234.7,"v":0.2},{"f":236.2,"v":-0.1},{"f":237.7,"v":-0.2},{"f":238.8,"v":-0.25},{"f":239.9,"v":-0.2},{"f":241.2,"v":-0.1},{"f":242.4,"v":0.2},{"f":243.4,"v":0.3},{"f":244.1,"v":0.7},{"f":244.7,"v":-0.3},{"f":245.4,"v":0.4},{"f":246.5,"v":0.5},{"f":247.6,"v":0.6},{"f":248.7,"v":0.55},{"f":249.8,"v":0.6}]
  },
  "columns": 2,
  "spacing": {"row": 23, "column": 108},
  "concat": [
    {
      "title": {"text": "(a) Clean (TIMIT) MFCC₁ trajectory before HEQ", "offset": 5},
      "data": {"name": "a"},
      "width": 457, "height": 315,
      "layer": [
        {"mark": {"type": "line", "color": "black", "strokeWidth": 1.1, "clip": true},
         "encoding": {
           "x": {"field": "f", "type": "quantitative", "scale": {"domain": [0, 250], "nice": false, "zero": false}, "axis": {"values": [0, 50, 100, 150, 200, 250], "title": "Frame number"}},
           "y": {"field": "v", "type": "quantitative", "scale": {"domain": [-20, 0], "nice": false, "zero": false}, "axis": {"values": [-20, -15, -10, -5, 0], "title": "Feature value"}}}},
        {"mark": {"type": "line", "opacity": 0},
         "encoding": {
           "x": {"field": "f", "type": "quantitative", "axis": {"orient": "top", "values": [0, 50, 100, 150, 200, 250], "labels": false, "title": null}},
           "y": {"field": "v", "type": "quantitative", "axis": {"orient": "right", "values": [-20, -15, -10, -5, 0], "labels": false, "title": null}}}}
      ],
      "resolve": {"axis": {"x": "independent", "y": "independent"}}
    },
    {
      "title": {"text": "(c) Clean (TIMIT) MFCC₁ trajectory after HEQ", "offset": 5},
      "data": {"name": "c"},
      "width": 457, "height": 315,
      "layer": [
        {"mark": {"type": "line", "color": "black", "strokeWidth": 1.1, "clip": true},
         "encoding": {
           "x": {"field": "f", "type": "quantitative", "scale": {"domain": [0, 250], "nice": false, "zero": false}, "axis": {"values": [0, 50, 100, 150, 200, 250], "title": "Frame number"}},
           "y": {"field": "v", "type": "quantitative", "scale": {"domain": [-4, 4], "nice": false, "zero": false}, "axis": {"values": [-4, -2, 0, 2, 4], "title": "Feature value"}}}},
        {"mark": {"type": "line", "opacity": 0},
         "encoding": {
           "x": {"field": "f", "type": "quantitative", "axis": {"orient": "top", "values": [0, 50, 100, 150, 200, 250], "labels": false, "title": null}},
           "y": {"field": "v", "type": "quantitative", "axis": {"orient": "right", "values": [-4, -2, 0, 2, 4], "labels": false, "title": null}}}}
      ],
      "resolve": {"axis": {"x": "independent", "y": "independent"}}
    },
    {
      "title": {"text": "(b) Contaminated (NTIMIT) MFCC₁ trajectory before HEQ", "offset": 18},
      "data": {"name": "b"},
      "width": 457, "height": 315,
      "layer": [
        {"mark": {"type": "line", "color": "black", "strokeWidth": 1.1, "clip": true},
         "encoding": {
           "x": {"field": "f", "type": "quantitative", "scale": {"domain": [0, 250], "nice": false, "zero": false}, "axis": {"values": [0, 50, 100, 150, 200, 250], "title": "Frame number"}},
           "y": {"field": "v", "type": "quantitative", "scale": {"domain": [-20, 0], "nice": false, "zero": false}, "axis": {"values": [-20, -15, -10, -5, 0], "title": "Feature value"}}}},
        {"mark": {"type": "line", "opacity": 0},
         "encoding": {
           "x": {"field": "f", "type": "quantitative", "axis": {"orient": "top", "values": [0, 50, 100, 150, 200, 250], "labels": false, "title": null}},
           "y": {"field": "v", "type": "quantitative", "axis": {"orient": "right", "values": [-20, -15, -10, -5, 0], "labels": false, "title": null}}}}
      ],
      "resolve": {"axis": {"x": "independent", "y": "independent"}}
    },
    {
      "title": {"text": "(d) Contaminated (NTIMIT) MFCC₁ trajectory after HEQ", "offset": 18},
      "data": {"name": "d"},
      "width": 457, "height": 315,
      "layer": [
        {"mark": {"type": "line", "color": "black", "strokeWidth": 1.1, "clip": true},
         "encoding": {
           "x": {"field": "f", "type": "quantitative", "scale": {"domain": [0, 250], "nice": false, "zero": false}, "axis": {"values": [0, 50, 100, 150, 200, 250], "title": "Frame number"}},
           "y": {"field": "v", "type": "quantitative", "scale": {"domain": [-4, 4], "nice": false, "zero": false}, "axis": {"values": [-4, -2, 0, 2, 4], "title": "Feature value"}}}},
        {"mark": {"type": "line", "opacity": 0},
         "encoding": {
           "x": {"field": "f", "type": "quantitative", "axis": {"orient": "top", "values": [0, 50, 100, 150, 200, 250], "labels": false, "title": null}},
           "y": {"field": "v", "type": "quantitative", "axis": {"orient": "right", "values": [-4, -2, 0, 2, 4], "labels": false, "title": null}}}}
      ],
      "resolve": {"axis": {"x": "independent", "y": "independent"}}
    }
  ],
  "config": {
    "font": "Liberation Sans",
    "view": {"stroke": "black", "strokeWidth": 1},
    "axis": {
      "grid": false,
      "domainColor": "black",
      "domainWidth": 1,
      "tickColor": "black",
      "tickSize": -5,
      "labelPadding": 12,
      "labelColor": "black",
      "labelFont": "Liberation Sans",
      "labelFontSize": 16,
      "labelExpr": "toString(datum.value)",
      "titleColor": "black",
      "titleFont": "Liberation Sans",
      "titleFontSize": 17.5,
      "titleFontWeight": "normal",
      "labelFlush": false,
      "labelOverlap": false
    },
    "axisX": {"titlePadding": 8},
    "axisY": {"titlePadding": 9},
    "title": {"fontSize": 17.5, "fontWeight": "normal", "color": "black", "font": "Liberation Sans"}
  }
}
